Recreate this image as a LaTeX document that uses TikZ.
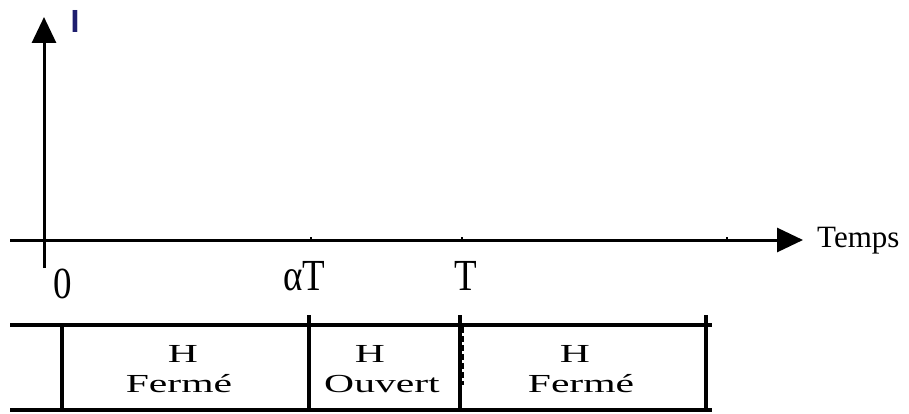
\documentclass[tikz,border=0pt]{standalone}
\usepackage{fontspec}
\setmainfont{Liberation Serif}
\newfontfamily\lsans{Liberation Sans}
\usetikzlibrary{arrows.meta}
\definecolor{navy}{RGB}{30,30,110}
\begin{document}
\begin{tikzpicture}[x=1pt,y=-1pt,
  axis/.style={line width=3pt,-{Triangle[length=26pt,width=24pt]}},
  tbl/.style={line width=3.4pt},
  tick/.style={line width=1.8pt},
  bigl/.style={inner sep=0pt,anchor=base,font=\fontsize{37}{42}\selectfont},
  cell/.style={inner sep=0pt,anchor=base,font=\fontsize{26}{30}\selectfont}]
\useasboundingbox (0,0) rectangle (909,414);
% axes
\coordinate (vbot) at (44,268);
\coordinate (vtop) at (44,17);
\coordinate (hl) at (10,240);
\coordinate (hr) at (803,240);
\draw[axis] (vbot) -- (vtop);
\draw[axis] (hl) -- (hr);
% tick marks
\coordinate (t1) at (311,240);
\coordinate (t2) at (462,240);
\coordinate (t3) at (727,240);
\foreach \t in {t1,t2,t3}{\draw[tick] (\t) -- ++(0,-3.5);}
% labels
\node[inner sep=0pt,anchor=base,text=navy,font=\lsans\bfseries\fontsize{32}{36}\selectfont] (ilab) at (75,33) {I};
\node[inner sep=0pt,anchor=base west,font=\fontsize{31}{36}\selectfont] (temps) at (817,247) {Temps};
\node[bigl] (zero) at (63,298) {\scalebox{1}[1.2]{0}};
\node[bigl] (aT) at (304,290) {\scalebox{1}[1.2]{αT}};
\node[bigl] (T) at (466,290) {\scalebox{1}[1.2]{T}};
% table
\coordinate (l1a) at (10,325); \coordinate (l1b) at (712,325);
\coordinate (l2a) at (10,410); \coordinate (l2b) at (712,410);
\draw[tbl] (l1a) -- (l1b);
\draw[tbl] (l2a) -- (l2b);
\coordinate (v1a) at (62,325); \coordinate (v1b) at (62,411.7);
\coordinate (v2a) at (309,315); \coordinate (v2b) at (309,411.7);
\coordinate (v3a) at (460,315); \coordinate (v3b) at (460,411.7);
\coordinate (v4a) at (706,315); \coordinate (v4b) at (706,411.7);
\draw[tbl] (v1a) -- (v1b);
\draw[tbl] (v2a) -- (v2b);
\draw[tbl] (v3a) -- (v3b);
\draw[tbl] (v4a) -- (v4b);
\coordinate (d3a) at (462.8,327); \coordinate (d3b) at (462.8,385);
\draw[line width=2.2pt,dash pattern=on 6pt off 3pt] (d3a) -- (d3b);
% cell texts
\node[cell] (c1h) at (183,362) {\scalebox{1.6}[1]{H}};
\node[cell] (c1t) at (179,392) {\scalebox{1.6}[1]{Fermé}};
\node[cell] (c2h) at (370,362) {\scalebox{1.6}[1]{H}};
\node[cell] (c2t) at (382,392) {\scalebox{1.6}[1]{Ouvert}};
\node[cell] (c3h) at (575,362) {\scalebox{1.6}[1]{H}};
\node[cell] (c3t) at (581,392) {\scalebox{1.6}[1]{Fermé}};
\end{tikzpicture}
\end{document}
